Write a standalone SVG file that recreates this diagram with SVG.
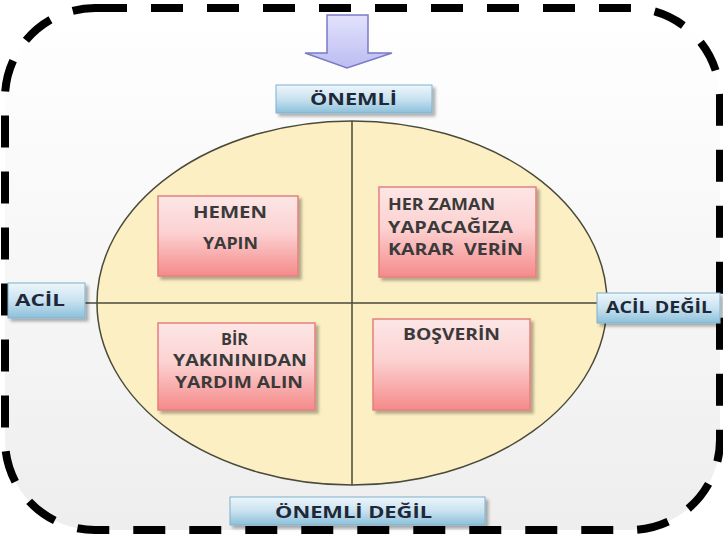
<svg xmlns="http://www.w3.org/2000/svg" width="723" height="534" viewBox="0 0 723 534">
<defs>
<linearGradient id="bg" x1="0" y1="0" x2="0" y2="1"><stop offset="0" stop-color="#ffffff"/><stop offset="1" stop-color="#eeeeee"/></linearGradient>
<linearGradient id="blue" x1="0" y1="0" x2="0" y2="1"><stop offset="0" stop-color="#eef6fb"/><stop offset="0.5" stop-color="#c9e2f0"/><stop offset="1" stop-color="#8cc0da"/></linearGradient>
<linearGradient id="pink" x1="0" y1="0" x2="0" y2="1"><stop offset="0" stop-color="#fde6e6"/><stop offset="0.45" stop-color="#fcd2d2"/><stop offset="1" stop-color="#f58a8a"/></linearGradient>
<linearGradient id="lav" x1="0" y1="0" x2="0" y2="1"><stop offset="0" stop-color="#e2e2fc"/><stop offset="1" stop-color="#bcbcf2"/></linearGradient>
<filter id="sh" x="-10%" y="-10%" width="130%" height="140%"><feDropShadow dx="3" dy="3" stdDeviation="1.5" flood-color="#000" flood-opacity="0.3"/></filter>
</defs>
<style>
.lbl{fill:url(#blue);stroke:#7fb0cc;stroke-width:1;filter:url(#sh)}
.lt{font-family:"Open Sans","Liberation Sans",sans-serif;font-weight:bold;font-size:16px;fill:#1e2838}
.pk{fill:url(#pink);stroke:#e57f7f;stroke-width:1.5;filter:url(#sh)}
.pt{font-family:"Open Sans","Liberation Sans",sans-serif;font-weight:bold;font-size:16px;fill:#3a3a3a;white-space:pre}
.ln{stroke:#4a4a3a;stroke-width:1.5;fill:none}
</style>
<rect x="5" y="8" width="715" height="522" rx="90" fill="url(#bg)" stroke="none"/>
<rect x="5" y="8" width="715" height="522" rx="90" fill="none" stroke="#000" stroke-width="8" stroke-dasharray="32 24"/>
<g id="circle">
<ellipse cx="352" cy="303" rx="255" ry="182" fill="#fcefc3" stroke="#4a4a3a" stroke-width="1.5"/>
</g>
<g id="connectors">
<line class="ln" x1="352" y1="121" x2="352" y2="485"/>
<line class="ln" x1="85" y1="303" x2="600" y2="303"/>
</g>
<g id="arrow">
<path d="M327 15 H368 V53 H392 L347 68 L305 53 H327 Z" fill="url(#lav)" stroke="#7a7ac8" stroke-width="1.5"/>
</g>
<g id="onemli"><rect class="lbl" x="276" y="85" width="156" height="28"/><text class="lt" x="310" y="105" textLength="87" lengthAdjust="spacingAndGlyphs">ÖNEMLİ</text></g>
<g id="acil"><rect class="lbl" x="8" y="283" width="77" height="35"/><text class="lt" x="15" y="306" textLength="50" lengthAdjust="spacingAndGlyphs">ACİL</text></g>
<g id="acildegil"><rect class="lbl" x="597" y="293" width="123" height="30"/><text class="lt" x="606" y="313" textLength="106" lengthAdjust="spacingAndGlyphs">ACİL DEĞİL</text></g>
<g id="onemlidegil"><rect class="lbl" x="230" y="497" width="255" height="28"/><text class="lt" x="275" y="518" textLength="157" lengthAdjust="spacingAndGlyphs">ÖNEMLİ DEĞİL</text></g>
<g id="hemen"><rect class="pk" x="158" y="196" width="140" height="80"/><text class="pt" x="193" y="218" textLength="74" lengthAdjust="spacingAndGlyphs">HEMEN</text><text class="pt" x="203" y="249" textLength="55" lengthAdjust="spacingAndGlyphs">YAPIN</text></g>
<g id="herzaman"><rect class="pk" x="379" y="187" width="157" height="90"/><text class="pt" x="388" y="210" textLength="107" lengthAdjust="spacingAndGlyphs">HER ZAMAN</text><text class="pt" x="388" y="233" textLength="125" lengthAdjust="spacingAndGlyphs">YAPACAĞIZA</text><text class="pt" x="388" y="255" textLength="135" lengthAdjust="spacingAndGlyphs" xml:space="preserve">KARAR  VERİN</text></g>
<g id="bir"><rect class="pk" x="158" y="323" width="157" height="87"/><text class="pt" x="221" y="345" textLength="27" lengthAdjust="spacingAndGlyphs">BİR</text><text class="pt" x="173" y="366" textLength="134" lengthAdjust="spacingAndGlyphs">YAKININIDAN</text><text class="pt" x="175" y="388" textLength="128" lengthAdjust="spacingAndGlyphs">YARDIM ALIN</text></g>
<g id="bosverin"><rect class="pk" x="373" y="319" width="157" height="91"/><text class="pt" x="403" y="340" textLength="97" lengthAdjust="spacingAndGlyphs">BOŞVERİN</text></g>
</svg>
